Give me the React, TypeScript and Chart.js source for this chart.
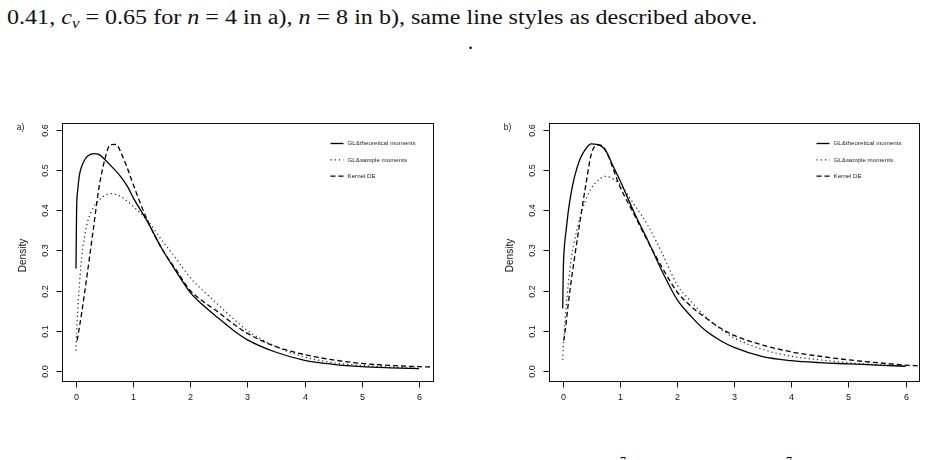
import { useEffect, useLayoutEffect, useRef } from "react";
import { Chart, registerables } from "chart.js";

Chart.register(...registerables);

// x grid used by both GL curves
const glX = [0, 0.01, 0.03, 0.06, 0.1, 0.15, 0.2, 0.3, 0.4, 0.5, 0.6, 0.75, 0.9, 1.0, 1.25, 1.5, 1.75, 2.0, 2.25, 2.5, 2.75, 3.0, 3.5, 4.0, 4.5, 5.0, 5.5, 6.0];

// panel a) n = 4
const aTheoretical = [0.255, 0.4, 0.45, 0.488, 0.51, 0.526, 0.535, 0.542, 0.54, 0.528, 0.513, 0.49, 0.46, 0.432, 0.372, 0.305, 0.248, 0.195, 0.16, 0.13, 0.101, 0.077, 0.046, 0.026, 0.016, 0.01, 0.007, 0.005];
const aSample = [0.05, 0.095, 0.15, 0.215, 0.285, 0.335, 0.37, 0.407, 0.426, 0.437, 0.442, 0.437, 0.423, 0.41, 0.375, 0.326, 0.28, 0.232, 0.196, 0.163, 0.13, 0.1, 0.06, 0.034, 0.02, 0.013, 0.009, 0.006];
const aKdeX = [0.02, 0.1, 0.2, 0.3, 0.4, 0.5, 0.6, 0.7, 0.8, 0.9, 1.0, 1.25, 1.5, 1.75, 2.0, 2.25, 2.5, 2.75, 3.0, 3.5, 4.0, 4.5, 5.0, 5.5, 6.0, 6.24];
const aKde = [0.075, 0.145, 0.245, 0.35, 0.455, 0.525, 0.564, 0.565, 0.54, 0.505, 0.465, 0.375, 0.305, 0.252, 0.2, 0.17, 0.145, 0.117, 0.093, 0.06, 0.04, 0.027, 0.018, 0.013, 0.01, 0.009];

// panel b) n = 8
const bTheoretical = [0.155, 0.25, 0.31, 0.35, 0.4, 0.445, 0.48, 0.527, 0.553, 0.566, 0.565, 0.55, 0.505, 0.476, 0.395, 0.322, 0.245, 0.178, 0.135, 0.1, 0.076, 0.058, 0.035, 0.025, 0.02, 0.017, 0.014, 0.011];
const bSample = [0.027, 0.06, 0.1, 0.16, 0.22, 0.28, 0.32, 0.38, 0.425, 0.455, 0.473, 0.485, 0.477, 0.465, 0.415, 0.36, 0.29, 0.215, 0.172, 0.135, 0.105, 0.082, 0.053, 0.036, 0.027, 0.02, 0.015, 0.012];
const bKdeX = [0.02, 0.06, 0.1, 0.15, 0.2, 0.3, 0.4, 0.5, 0.6, 0.7, 0.8, 0.9, 1.0, 1.25, 1.5, 1.75, 2.0, 2.25, 2.5, 2.75, 3.0, 3.5, 4.0, 4.5, 5.0, 5.5, 6.0, 6.24];
const bKde = [0.075, 0.12, 0.17, 0.225, 0.275, 0.37, 0.46, 0.54, 0.564, 0.56, 0.535, 0.497, 0.46, 0.39, 0.32, 0.255, 0.197, 0.16, 0.132, 0.107, 0.088, 0.064, 0.047, 0.036, 0.027, 0.02, 0.014, 0.012];

const xTicks = [0, 1, 2, 3, 4, 5, 6];
const yTicks = [0, 0.1, 0.2, 0.3, 0.4, 0.5, 0.6];
const yTickLabels = ["0.0", "0.1", "0.2", "0.3", "0.4", "0.5", "0.6"];
const seriesLabels = ["GL&theoretical moments", "GL&sample moments", "Kernel DE"];

const SANS = '"Liberation Sans", Arial, Helvetica, sans-serif';
const SERIF = '"Liberation Serif", "Times New Roman", serif';

const zip = (xs: number[], ys: number[]) => xs.map((x, i) => ({ x, y: ys[i] }));

// R-style box, ticks, rotated y labels, panel tag and legend
const rAxes = {
  id: "rAxes",
  afterDraw(chart: any, _args: any, opts: { tag?: string }) {
    const { ctx, chartArea: a } = chart;
    const xs = chart.scales.x;
    const ys = chart.scales.y;
    const L = Math.round(a.left) + 0.5;
    const T = Math.round(a.top) + 0.5;
    const R = Math.round(a.right) + 0.5;
    const B = Math.round(a.bottom) + 0.5;

    ctx.save();
    ctx.strokeStyle = "#111";
    ctx.fillStyle = "#111";
    ctx.lineWidth = 1;
    ctx.setLineDash([]);
    ctx.strokeRect(L, T, R - L, B - T);

    const seg = (x1: number, y1: number, x2: number, y2: number) => {
      ctx.beginPath();
      ctx.moveTo(x1, y1);
      ctx.lineTo(x2, y2);
      ctx.stroke();
    };

    ctx.font = `9px ${SANS}`;
    ctx.textAlign = "center";
    ctx.textBaseline = "middle";
    xTicks.forEach((v) => {
      const px = Math.round(xs.getPixelForValue(v)) + 0.5;
      seg(px, B, px, B + 6);
      ctx.fillText(String(v), px, B + 16.5);
    });
    yTicks.forEach((v, i) => {
      const py = Math.round(ys.getPixelForValue(v)) + 0.5;
      seg(L - 6, py, L, py);
      ctx.save();
      ctx.translate(L - 17, py);
      ctx.rotate(-Math.PI / 2);
      ctx.fillText(yTickLabels[i], 0, 0);
      ctx.restore();
    });

    ctx.save();
    ctx.font = `10px ${SANS}`;
    ctx.translate(L - 39, (T + B) / 2 + 3);
    ctx.rotate(-Math.PI / 2);
    ctx.fillText("Density", 0, 0);
    ctx.restore();

    if (opts && opts.tag) {
      ctx.font = `8.5px ${SANS}`;
      ctx.fillText(opts.tag, L - 42, T + 4);
    }

    // legend
    ctx.font = `6.2px ${SANS}`;
    ctx.textAlign = "left";
    chart.data.datasets.forEach((ds: any, i: number) => {
      const y = T + 20 + i * 16.3;
      ctx.strokeStyle = ds.borderColor;
      ctx.lineWidth = ds.borderWidth;
      ctx.setLineDash(ds.borderDash || []);
      seg(R - 103, y, R - 90, y);
      ctx.fillStyle = "#222";
      ctx.fillText(ds.label, R - 86, y);
    });
    ctx.restore();
  },
};

interface PanelProps {
  tag: string;
  left: number;
  padLeft: number;
  padRight: number;
  theoretical: number[];
  sample: number[];
  kdeX: number[];
  kde: number[];
}

function Panel({ tag, left, padLeft, padRight, theoretical, sample, kdeX, kde }: PanelProps) {
  const canvasRef = useRef<HTMLCanvasElement>(null);

  useEffect(() => {
    if (!canvasRef.current) return;
    const line = { pointRadius: 0, fill: false, cubicInterpolationMode: "monotone" as const };
    const chart = new Chart(canvasRef.current, {
      type: "line",
      data: {
        datasets: [
          { ...line, label: seriesLabels[0], data: zip(glX, theoretical), borderColor: "#000", borderWidth: 1.3, borderDash: [] },
          { ...line, label: seriesLabels[1], data: zip(glX, sample), borderColor: "#222", borderWidth: 1.2, borderDash: [1.2, 3] },
          { ...line, label: seriesLabels[2], data: zip(kdeX, kde), borderColor: "#000", borderWidth: 1.3, borderDash: [5, 3] },
        ],
      },
      options: {
        animation: false,
        responsive: false,
        events: [],
        layout: { padding: { left: padLeft, right: padRight, top: 22.7, bottom: 39.3 } },
        scales: {
          x: { type: "linear", min: -0.245, max: 6.24, display: false },
          y: { type: "linear", min: -0.025, max: 0.619, display: false },
        },
        plugins: {
          legend: { display: false },
          tooltip: { enabled: false },
          // @ts-ignore custom plugin options
          rAxes: { tag },
        },
      },
      plugins: [rAxes],
    });
    return () => chart.destroy();
  }, [tag, padLeft, padRight, theoretical, sample, kdeX, kde]);

  return (
    <div style={{ position: "absolute", left, top: 100, width: 463, height: 320 }}>
      <canvas ref={canvasRef} width={463} height={320} style={{ display: "block", width: 463, height: 320 }} />
    </div>
  );
}

export default function App() {
  const captionRef = useRef<HTMLDivElement>(null);

  // stretch the caption line to the width it has in the reference
  useLayoutEffect(() => {
    const el = captionRef.current;
    if (!el) return;
    el.style.transform = `scaleX(${750 / el.offsetWidth})`;
  }, []);

  return (
    <div style={{ position: "absolute", left: 0, top: 0, width: 926, height: 460, overflow: "hidden", background: "#fff" }}>
      <div
        ref={captionRef}
        style={{
          position: "absolute",
          left: 7,
          top: 6.5,
          fontFamily: SERIF,
          fontSize: 20,
          lineHeight: "20px",
          whiteSpace: "nowrap",
          transformOrigin: "0 0",
          color: "#111",
        }}
      >
        0.41, <i>c</i>
        <span style={{ fontSize: 14, fontStyle: "italic", position: "relative", top: 4 }}>v</span> = 0.65 for <i>n</i> = 4 in a), <i>n</i> = 8 in b), same line styles as described above.
      </div>
      <div style={{ position: "absolute", left: 468, top: 32, fontFamily: SERIF, fontSize: 20, lineHeight: "20px" }}>.</div>

      <Panel tag="a)" left={0} padLeft={62} padRight={30.3} theoretical={aTheoretical} sample={aSample} kdeX={aKdeX} kde={aKde} />
      <Panel tag="b)" left={463} padLeft={85.7} padRight={6.7} theoretical={bTheoretical} sample={bSample} kdeX={bKdeX} kde={bKde} />

      <div style={{ position: "absolute", left: 620, top: 455, fontFamily: SERIF, fontSize: 12, lineHeight: "12px" }}>7</div>
      <div style={{ position: "absolute", left: 786, top: 455, fontFamily: SERIF, fontSize: 12, lineHeight: "12px" }}>7</div>
    </div>
  );
}
